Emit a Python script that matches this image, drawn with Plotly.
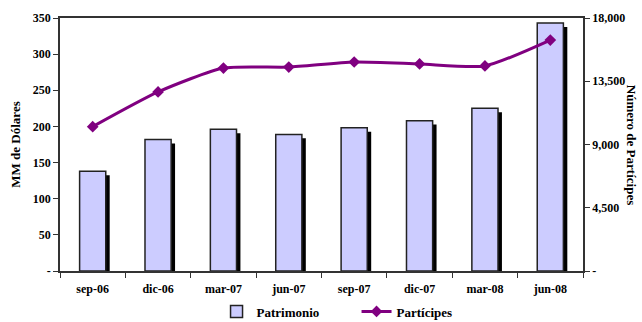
import plotly.graph_objects as go

# Quarterly fund data
periodos = ["sep-06", "dic-06", "mar-07", "jun-07", "sep-07", "dic-07", "mar-08", "jun-08"]
patrimonio = [138, 182, 196, 189, 198, 208, 225, 343]          # MM de Dólares
participes = [10270, 12740, 14440, 14510, 14870, 14730, 14590, 16430]

left_ticks = [0, 50, 100, 150, 200, 250, 300, 350]
left_text = ["-", "50", "100", "150", "200", "250", "300", "350"]
right_ticks = [0, 4500, 9000, 13500, 18000]
right_text = ["-", "4,500", "9,000", "13,500", "18,000"]

FONT = "Liberation Serif"
bar_w = 0.4
shadow_dx = 0.06
shadow_dy = 5.5

tick_font = dict(family=FONT, size=12, color="black", weight="bold")

fig = go.Figure()

# drop shadow behind each bar
fig.add_trace(go.Bar(
    x=periodos, y=patrimonio, base=[-shadow_dy] * len(patrimonio),
    width=bar_w, offset=-bar_w / 2 + shadow_dx,
    marker=dict(color="black", line=dict(width=0)),
    showlegend=False, hoverinfo="skip",
))

fig.add_trace(go.Bar(
    x=periodos, y=patrimonio, name="Patrimonio",
    width=bar_w, offset=-bar_w / 2,
    marker=dict(color="#CCCCFF", line=dict(color="#222222", width=1.5)),
))

fig.add_trace(go.Scatter(
    x=periodos, y=participes, name="Partícipes", yaxis="y2",
    mode="lines+markers", line=dict(color="#800080", width=3, shape="spline", smoothing=0.6),
    marker=dict(symbol="diamond", size=9, color="#800080"),
))

fig.update_layout(
    width=642, height=322,
    margin=dict(l=60, r=59, t=18, b=51, autoexpand=False),
    paper_bgcolor="white", plot_bgcolor="white",
    barmode="overlay",
    font=dict(family=FONT, size=11, color="black"),
    showlegend=True,
    legend=dict(orientation="h", x=0.567, xanchor="center", y=-0.16, yanchor="middle",
                font=dict(family=FONT, size=13, color="black", weight="bold"),
                traceorder="normal", tracegroupgap=0, entrywidth=95),
    xaxis=dict(
        type="category", showgrid=False, showline=True, linecolor="#333333", linewidth=1.5,
        mirror=True, ticks="outside", tickson="boundaries", ticklen=5, tickcolor="#333333",
        tickfont=tick_font, range=[-0.5, 7.5], automargin=False, ticklabelstandoff=6,
    ),
    yaxis=dict(
        range=[0, 350], tickvals=left_ticks, ticktext=left_text, showgrid=False,
        showline=True, linecolor="#333333", linewidth=1.5, ticks="outside", ticklen=5,
        tickcolor="#333333", zeroline=False, tickfont=tick_font, automargin=False,
        title=dict(text="MM de Dólares",
                   font=dict(family=FONT, size=13, color="black", weight="bold"), standoff=9),
    ),
    yaxis2=dict(
        range=[0, 18000], tickvals=right_ticks, ticktext=right_text, overlaying="y",
        side="right", showgrid=False, showline=True, linecolor="#333333", linewidth=1.5,
        ticks="outside", ticklen=5, tickcolor="#333333", zeroline=False,
        tickfont=tick_font, automargin=False,
    ),
    annotations=[dict(
        text="Número de Partícipes", xref="paper", yref="paper",
        x=1.093, y=0.5, xanchor="center", yanchor="middle", textangle=90, showarrow=False,
        font=dict(family=FONT, size=13, color="black", weight="bold"),
    )],
)

fig.write_html("out.html")
